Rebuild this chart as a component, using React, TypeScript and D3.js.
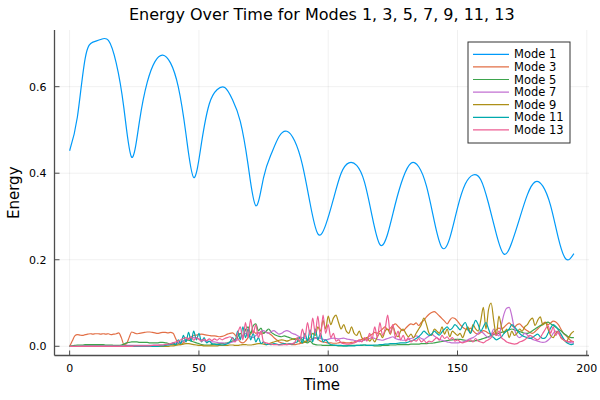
import * as d3 from "d3";

// time axis: mode 1 sampled every 3, the small modes every 1
const mode1Time = d3.range(0, 196, 3);
const fineTime = d3.range(0, 196);

const mode1 = [
  0.452, 0.53, 0.665, 0.703, 0.709, 0.707, 0.655, 0.55, 0.437,
  0.52, 0.61, 0.658, 0.673, 0.655, 0.6, 0.49, 0.39,
  0.47, 0.56, 0.593, 0.598, 0.57, 0.52, 0.42, 0.325,
  0.39, 0.445, 0.485, 0.497, 0.475, 0.42, 0.33, 0.26,
  0.28, 0.34, 0.4, 0.424, 0.418, 0.38, 0.3, 0.235,
  0.26, 0.33, 0.39, 0.423, 0.415, 0.37, 0.29, 0.228,
  0.25, 0.32, 0.375, 0.396, 0.385, 0.33, 0.26, 0.213,
  0.24, 0.295, 0.35, 0.38, 0.37, 0.325, 0.25, 0.201,
  0.214,
];

const mode3 = [
  0, 0.012, 0.024, 0.027, 0.026, 0.025, 0.027, 0.028, 0.029, 0.028,
  0.029, 0.029, 0.028, 0.029, 0.028, 0.029, 0.027, 0.028, 0.029, 0.031,
  0.02, 0.004, 0.006, 0.02, 0.033, 0.031, 0.029, 0.03, 0.031, 0.032,
  0.033, 0.033, 0.032, 0.031, 0.03, 0.031, 0.032, 0.032, 0.031, 0.032,
  0.03, 0.018, 0.006, 0.004, 0.008, 0.012, 0.018, 0.022, 0.025, 0.026,
  0.027, 0.028, 0.027, 0.026, 0.025, 0.024, 0.024, 0.023, 0.022, 0.023,
  0.025, 0.028, 0.03, 0.031, 0.026, 0.018, 0.01, 0.008, 0.012, 0.02,
  0.028, 0.035, 0.03, 0.032, 0.028, 0.03, 0.033, 0.03, 0.026, 0.02,
  0.015, 0.01, 0.008, 0.006, 0.005, 0.005, 0.004, 0.004, 0.005, 0.006,
  0.008, 0.01, 0.012, 0.015, 0.018, 0.02, 0.016, 0.012, 0.01, 0.009,
  0.008, 0.008, 0.007, 0.007, 0.008, 0.009, 0.009, 0.008, 0.008, 0.009,
  0.01, 0.012, 0.014, 0.016, 0.018, 0.02, 0.024, 0.028, 0.032, 0.03,
  0.035, 0.04, 0.045, 0.038, 0.042, 0.048, 0.052, 0.046, 0.04, 0.036,
  0.042, 0.048, 0.052, 0.05, 0.054, 0.048, 0.055, 0.06, 0.068, 0.074,
  0.078, 0.08, 0.076, 0.07, 0.064, 0.058, 0.052, 0.06, 0.066, 0.064,
  0.058, 0.05, 0.044, 0.04, 0.038, 0.042, 0.036, 0.03, 0.028, 0.032,
  0.036, 0.034, 0.03, 0.028, 0.032, 0.038, 0.042, 0.04, 0.044, 0.05,
  0.054, 0.048, 0.044, 0.05, 0.052, 0.046, 0.04, 0.036, 0.032, 0.03,
  0.034, 0.04, 0.046, 0.052, 0.056, 0.05, 0.054, 0.058, 0.056, 0.05,
  0.04, 0.03, 0.024, 0.018, 0.012, 0.01,
];

const mode5 = [
  0, 0.001, 0.002, 0.003, 0.003, 0.003, 0.004, 0.004, 0.004, 0.004,
  0.004, 0.004, 0.004, 0.004, 0.003, 0.003, 0.003, 0.002, 0.002, 0.002,
  0.003, 0.005, 0.008, 0.009, 0.01, 0.01, 0.01, 0.009, 0.009, 0.009,
  0.009, 0.008, 0.008, 0.008, 0.008, 0.009, 0.009, 0.008, 0.007, 0.005,
  0.004, 0.004, 0.006, 0.009, 0.012, 0.015, 0.014, 0.012, 0.01, 0.008,
  0.006, 0.004, 0.003, 0.003, 0.003, 0.004, 0.005, 0.005, 0.006, 0.006,
  0.007, 0.008, 0.01, 0.012, 0.016, 0.022, 0.03, 0.024, 0.038, 0.045,
  0.03, 0.048, 0.052, 0.036, 0.042, 0.03, 0.035, 0.04, 0.032, 0.028,
  0.025, 0.023, 0.022, 0.024, 0.022, 0.02, 0.018, 0.016, 0.018, 0.02,
  0.015, 0.01, 0.008, 0.012, 0.006, 0.004, 0.003, 0.003, 0.002, 0.002,
  0.002, 0.002, 0.002, 0.002, 0.001, 0.001, 0.001, 0.001, 0.002, 0.002,
  0.002, 0.002, 0.002, 0.002, 0.003, 0.002, 0.002, 0.002, 0.001, 0.001,
  0.001, 0.002, 0.002, 0.002, 0.003, 0.003, 0.003, 0.004, 0.004, 0.004,
  0.004, 0.004, 0.005, 0.005, 0.005, 0.005, 0.006, 0.006, 0.006, 0.007,
  0.007, 0.008, 0.009, 0.01, 0.011, 0.012, 0.013, 0.014, 0.015, 0.016,
  0.016, 0.016, 0.015, 0.014, 0.013, 0.012, 0.012, 0.013, 0.014, 0.016,
  0.018, 0.02, 0.022, 0.025, 0.027, 0.028, 0.03, 0.032, 0.034, 0.036,
  0.038, 0.04, 0.038, 0.036, 0.034, 0.032, 0.03, 0.03, 0.032, 0.036,
  0.04, 0.044, 0.048, 0.05, 0.054, 0.056, 0.052, 0.048, 0.044, 0.04,
  0.036, 0.03, 0.026, 0.022, 0.02, 0.02,
];

const mode7 = [
  0, 0, 0, 0, 0, 0.001, 0.001, 0.001, 0.001, 0.001,
  0.001, 0.001, 0.001, 0.001, 0.001, 0.001, 0.001, 0.001, 0.001, 0.001,
  0.001, 0.001, 0.002, 0.002, 0.002, 0.002, 0.002, 0.002, 0.002, 0.002,
  0.002, 0.002, 0.002, 0.003, 0.003, 0.003, 0.003, 0.004, 0.004, 0.005,
  0.006, 0.007, 0.008, 0.01, 0.012, 0.014, 0.016, 0.018, 0.02, 0.019,
  0.017, 0.015, 0.013, 0.012, 0.011, 0.01, 0.01, 0.009, 0.008, 0.008,
  0.007, 0.007, 0.008, 0.01, 0.012, 0.015, 0.02, 0.025, 0.03, 0.026,
  0.022, 0.02, 0.025, 0.03, 0.034, 0.036, 0.032, 0.03, 0.034, 0.036,
  0.032, 0.028, 0.03, 0.034, 0.036, 0.034, 0.03, 0.028, 0.025, 0.022,
  0.02, 0.018, 0.016, 0.015, 0.016, 0.018, 0.02, 0.018, 0.016, 0.015,
  0.016, 0.018, 0.019, 0.018, 0.017, 0.018, 0.019, 0.017, 0.016, 0.015,
  0.014, 0.012, 0.011, 0.012, 0.014, 0.016, 0.018, 0.02, 0.018, 0.016,
  0.015, 0.014, 0.016, 0.018, 0.02, 0.022, 0.018, 0.016, 0.015, 0.014,
  0.014, 0.016, 0.018, 0.02, 0.024, 0.022, 0.018, 0.016, 0.02, 0.024,
  0.028, 0.024, 0.02, 0.016, 0.014, 0.012, 0.01, 0.009, 0.008, 0.008,
  0.008, 0.009, 0.01, 0.012, 0.015, 0.018, 0.02, 0.024, 0.03, 0.034,
  0.03, 0.024, 0.02, 0.026, 0.04, 0.03, 0.024, 0.05, 0.075, 0.088,
  0.09, 0.07, 0.04, 0.025, 0.02, 0.024, 0.03, 0.026, 0.02, 0.016,
  0.014, 0.012, 0.01, 0.009, 0.01, 0.014, 0.02, 0.03, 0.035, 0.03,
  0.022, 0.016, 0.012, 0.01, 0.008, 0.008,
];

const mode9 = [
  0, 0, 0, 0, 0, 0, 0, 0, 0, 0,
  0, 0, 0, 0, 0, 0, 0, 0, 0, 0,
  0, 0, 0, 0, 0, 0, 0, 0, 0, 0,
  0, 0, 0, 0, 0, 0, 0, 0, 0, 0.001,
  0.001, 0.002, 0.003, 0.004, 0.005, 0.006, 0.006, 0.005, 0.004, 0.003,
  0.002, 0.002, 0.001, 0.001, 0.001, 0.001, 0.001, 0.001, 0.002, 0.002,
  0.002, 0.002, 0.003, 0.003, 0.002, 0.002, 0.003, 0.004, 0.004, 0.003,
  0.003, 0.004, 0.005, 0.006, 0.006, 0.005, 0.004, 0.006, 0.008, 0.01,
  0.012, 0.014, 0.015, 0.014, 0.012, 0.014, 0.016, 0.018, 0.015, 0.01,
  0.008, 0.01, 0.015, 0.02, 0.03, 0.025, 0.045, 0.035, 0.06, 0.04,
  0.07, 0.05, 0.065, 0.072, 0.055, 0.04, 0.05, 0.035, 0.03, 0.045,
  0.03, 0.025, 0.035, 0.02, 0.015, 0.02, 0.012, 0.018, 0.01, 0.022,
  0.03, 0.02, 0.035, 0.04, 0.028, 0.045, 0.03, 0.022, 0.035, 0.04,
  0.03, 0.022, 0.028, 0.02, 0.03, 0.04, 0.05, 0.065, 0.05, 0.03,
  0.025, 0.04, 0.035, 0.03, 0.045, 0.028, 0.04, 0.022, 0.035, 0.03,
  0.025, 0.03, 0.02, 0.035, 0.045, 0.03, 0.05, 0.04, 0.035, 0.06,
  0.09, 0.04, 0.085, 0.1, 0.06, 0.025, 0.07, 0.045, 0.03, 0.04,
  0.02, 0.035, 0.025, 0.03, 0.04, 0.035, 0.045, 0.05, 0.06, 0.065,
  0.048, 0.06, 0.068, 0.05, 0.055, 0.04, 0.025, 0.02, 0.03, 0.035,
  0.02, 0.015, 0.01, 0.02, 0.03, 0.035,
];

const mode11 = [
  0, 0, 0, 0, 0, 0, 0, 0, 0, 0,
  0, 0, 0, 0, 0, 0, 0, 0, 0, 0,
  0, 0, 0, 0, 0, 0, 0, 0, 0, 0,
  0, 0, 0, 0, 0, 0.001, 0.001, 0.002, 0.003, 0.004,
  0.008, 0.004, 0.015, 0.006, 0.025, 0.01, 0.032, 0.012, 0.035, 0.015,
  0.03, 0.01, 0.02, 0.008, 0.012, 0.006, 0.005, 0.004, 0.004, 0.003,
  0.004, 0.006, 0.01, 0.02, 0.012, 0.035, 0.015, 0.045, 0.02, 0.04,
  0.015, 0.03, 0.01, 0.02, 0.006, 0.01, 0.004, 0.005, 0.004, 0.006,
  0.005, 0.004, 0.005, 0.006, 0.004, 0.006, 0.005, 0.008, 0.01, 0.02,
  0.008, 0.03, 0.012, 0.038, 0.01, 0.04, 0.015, 0.03, 0.01, 0.015,
  0.008, 0.004, 0.003, 0.002, 0.002, 0.002, 0.001, 0.001, 0.001, 0.001,
  0.001, 0.002, 0.002, 0.003, 0.003, 0.002, 0.002, 0.002, 0.003, 0.003,
  0.004, 0.004, 0.005, 0.005, 0.006, 0.006, 0.006, 0.007, 0.008, 0.008,
  0.008, 0.01, 0.012, 0.014, 0.018, 0.022, 0.028, 0.035, 0.03, 0.025,
  0.028, 0.035, 0.03, 0.026, 0.033, 0.04, 0.045, 0.038, 0.042, 0.05,
  0.045, 0.038, 0.048, 0.055, 0.04, 0.03, 0.045, 0.06, 0.05, 0.035,
  0.045, 0.055, 0.04, 0.025, 0.02, 0.015, 0.018, 0.022, 0.03, 0.035,
  0.04, 0.05, 0.045, 0.038, 0.03, 0.025, 0.022, 0.02, 0.018, 0.02,
  0.025, 0.028, 0.022, 0.018, 0.02, 0.03, 0.042, 0.05, 0.046, 0.038,
  0.028, 0.018, 0.01, 0.006, 0.004, 0.006,
];

const mode13 = [
  0, 0, 0, 0, 0, 0, 0, 0, 0, 0,
  0, 0, 0, 0, 0, 0, 0, 0, 0, 0,
  0, 0, 0, 0, 0, 0.001, 0.001, 0.001, 0.001, 0.001,
  0.001, 0.001, 0.002, 0.002, 0.002, 0.003, 0.003, 0.004, 0.005, 0.006,
  0.008, 0.01, 0.012, 0.015, 0.018, 0.02, 0.016, 0.022, 0.014, 0.02,
  0.016, 0.012, 0.016, 0.013, 0.017, 0.013, 0.017, 0.014, 0.018, 0.015,
  0.018, 0.02, 0.022, 0.018, 0.01, 0.03, 0.045, 0.015, 0.055, 0.02,
  0.062, 0.03, 0.05, 0.02, 0.035, 0.01, 0.008, 0.006, 0.005, 0.004,
  0.004, 0.003, 0.003, 0.004, 0.004, 0.005, 0.006, 0.008, 0.02, 0.012,
  0.04, 0.02, 0.055, 0.025, 0.065, 0.03, 0.07, 0.02, 0.072, 0.03,
  0.05, 0.02, 0.03, 0.012, 0.015, 0.008, 0.006, 0.005, 0.005, 0.006,
  0.008, 0.01, 0.015, 0.01, 0.02, 0.012, 0.03, 0.018, 0.045, 0.02,
  0.055, 0.025, 0.04, 0.072, 0.03, 0.05, 0.02, 0.035, 0.015, 0.025,
  0.012, 0.02, 0.01, 0.015, 0.012, 0.018, 0.01, 0.014, 0.008, 0.012,
  0.01, 0.015, 0.02, 0.014, 0.025, 0.018, 0.022, 0.015, 0.02, 0.012,
  0.015, 0.01, 0.008, 0.01, 0.012, 0.015, 0.01, 0.018, 0.012, 0.01,
  0.008, 0.012, 0.015, 0.02, 0.03, 0.025, 0.035, 0.02, 0.015, 0.01,
  0.008, 0.006, 0.005, 0.006, 0.01, 0.012, 0.015, 0.02, 0.025, 0.022,
  0.018, 0.015, 0.02, 0.03, 0.04, 0.048, 0.03, 0.045, 0.025, 0.035,
  0.02, 0.015, 0.012, 0.01, 0.012, 0.01,
];

const seriesNames = ["Mode 1", "Mode 3", "Mode 5", "Mode 7", "Mode 9", "Mode 11", "Mode 13"];
const seriesColors = ["#009af9", "#e26f46", "#3da44d", "#c270d2", "#ad8f18", "#00a9ad", "#ed5e93"];
const xTicks = [0, 50, 100, 150, 200];
const yTicks = [0, 0.2, 0.4, 0.6];

const W = 600;
const H = 400;
const left = 54.5;
const right = 589;
const top = 30;
const bottom = 355.5;
const font = "DejaVu Sans, sans-serif";

export default function App() {
  const x = d3.scaleLinear([-5.85, 200.85], [left, right]);
  const y = d3.scaleLinear([-0.0213, 0.731], [bottom, top]);

  const series = [
    { t: mode1Time, v: mode1 },
    { t: fineTime, v: mode3 },
    { t: fineTime, v: mode5 },
    { t: fineTime, v: mode7 },
    { t: fineTime, v: mode9 },
    { t: fineTime, v: mode11 },
    { t: fineTime, v: mode13 },
  ];

  // mode 1 is coarsely sampled, so it gets a natural spline
  const smooth = d3.line().curve(d3.curveNatural);
  const fine = d3.line().curve(d3.curveMonotoneX);

  const legX = 468;
  const legY = 42;
  const rowH = 12.6;

  return (
    <div style={{ position: "fixed", left: 0, top: 0 }}>
      <svg width={W} height={H} style={{ display: "block", background: "white" }}>
        {/* grid */}
        <g stroke="#000" strokeOpacity={0.1} strokeWidth={0.6}>
          {xTicks.map((t) => (
            <line key={"gx" + t} x1={x(t)} x2={x(t)} y1={top} y2={bottom} />
          ))}
          {yTicks.map((t) => (
            <line key={"gy" + t} x1={left} x2={right} y1={y(t)} y2={y(t)} />
          ))}
        </g>

        {/* series */}
        <g fill="none" strokeWidth={1.2} strokeLinejoin="round">
          {series.map((s, i) => (
            <path
              key={seriesNames[i]}
              stroke={seriesColors[i]}
              d={(i === 0 ? smooth : fine)(s.v.map((v, k) => [x(s.t[k]), y(v)]))}
            />
          ))}
        </g>

        {/* axes */}
        <g stroke="#4d4d4d">
          <line x1={left} x2={left} y1={top} y2={bottom} strokeWidth={1.3} />
          <line x1={left} x2={right} y1={bottom} y2={bottom} strokeWidth={1.3} />
          {xTicks.map((t) => (
            <line key={"tx" + t} x1={x(t)} x2={x(t)} y1={bottom} y2={bottom - 5} strokeWidth={1} />
          ))}
          {yTicks.map((t) => (
            <line key={"ty" + t} x1={left} x2={left + 5} y1={y(t)} y2={y(t)} strokeWidth={1} />
          ))}
        </g>

        <g fontFamily={font} fontSize={11} fill="#000">
          {xTicks.map((t) => (
            <text key={"lx" + t} x={x(t)} y={bottom + 16} textAnchor="middle">
              {t}
            </text>
          ))}
          {yTicks.map((t) => (
            <text key={"ly" + t} x={left - 8} y={y(t) + 4} textAnchor="end">
              {t.toFixed(1)}
            </text>
          ))}
        </g>

        {/* labels */}
        <text x={(left + right) / 2} y={20} textAnchor="middle" fontFamily={font} fontSize={16}>
          Energy Over Time for Modes 1, 3, 5, 7, 9, 11, 13
        </text>
        <text x={(left + right) / 2} y={390} textAnchor="middle" fontFamily={font} fontSize={15}>
          Time
        </text>
        <text
          transform={`translate(19,${(top + bottom) / 2}) rotate(-90)`}
          textAnchor="middle"
          fontFamily={font}
          fontSize={15}
        >
          Energy
        </text>

        {/* legend */}
        <rect x={legX} y={legY} width={102} height={101} fill="white" stroke="#333" strokeWidth={1} />
        {seriesNames.map((name, i) => (
          <g key={name}>
            <line
              x1={legX + 5}
              x2={legX + 41}
              y1={legY + 12.3 + i * rowH}
              y2={legY + 12.3 + i * rowH}
              stroke={seriesColors[i]}
              strokeWidth={1.2}
            />
            <text x={legX + 46} y={legY + 16.3 + i * rowH} fontFamily={font} fontSize={11.5}>
              {name}
            </text>
          </g>
        ))}
      </svg>
    </div>
  );
}
